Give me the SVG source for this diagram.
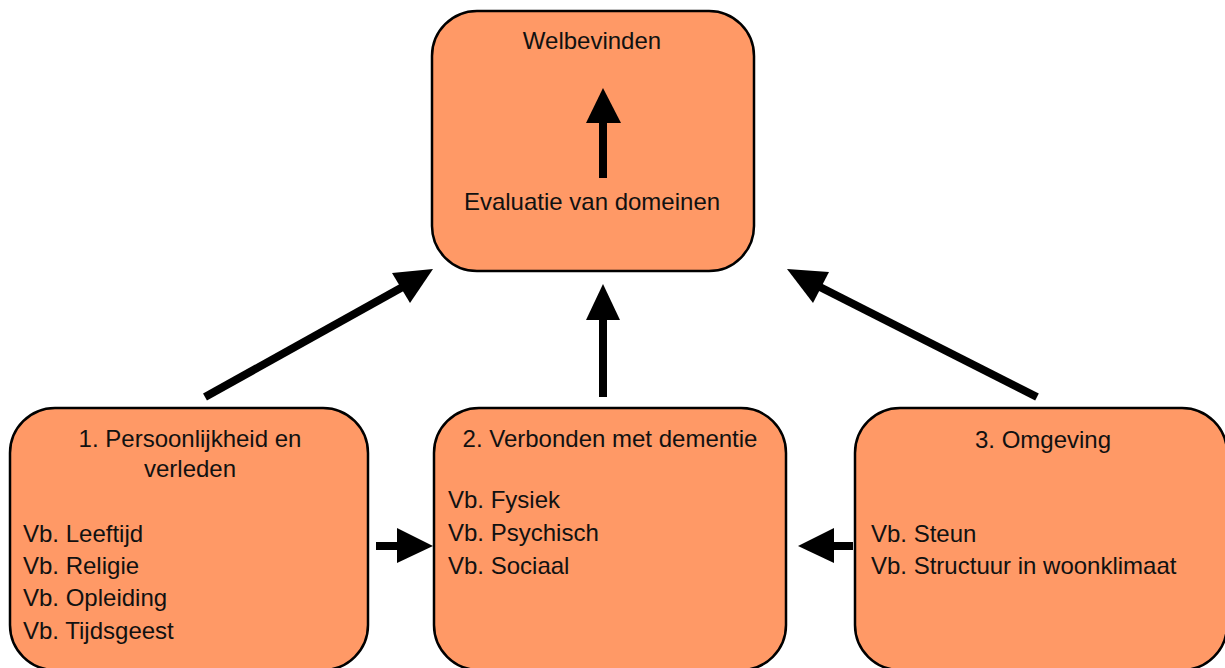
<svg xmlns="http://www.w3.org/2000/svg" width="1225" height="668" viewBox="0 0 1225 668">
<style>
.box{fill:#FF9966;stroke:#000;stroke-width:2.5}
text{font-family:"Liberation Sans",Arial,sans-serif;font-size:24px;fill:#111}
.c{text-anchor:middle}
.ln{stroke:#000;stroke-width:8;fill:none}
.hd{fill:#000}
</style>
<rect width="1225" height="668" fill="#fff"/>
<g id="welbevinden">
<rect class="box" x="432" y="11" width="322" height="260" rx="45"/>
<text class="c" x="592" y="49">Welbevinden</text>
<text class="c" x="592" y="210">Evaluatie van domeinen</text>
<line class="ln" x1="603" y1="178" x2="603" y2="118"/>
<polygon class="hd" points="603,88 586,123 621,123"/>
</g>
<g id="persoonlijkheid">
<rect class="box" x="10" y="408" width="358" height="262" rx="45"/>
<text class="c" x="190" y="447">1. Persoonlijkheid en</text>
<text class="c" x="190" y="477">verleden</text>
<text x="23" y="542">Vb. Leeftijd</text>
<text x="23" y="574">Vb. Religie</text>
<text x="23" y="606">Vb. Opleiding</text>
<text x="23" y="639">Vb. Tijdsgeest</text>
</g>
<g id="dementie">
<rect class="box" x="434" y="408" width="352" height="262" rx="45"/>
<text class="c" x="610" y="447">2. Verbonden met dementie</text>
<text x="448" y="508">Vb. Fysiek</text>
<text x="448" y="541">Vb. Psychisch</text>
<text x="448" y="574">Vb. Sociaal</text>
</g>
<g id="omgeving">
<rect class="box" x="855" y="408" width="372" height="262" rx="45"/>
<text class="c" x="1043" y="448">3. Omgeving</text>
<text x="871" y="542">Vb. Steun</text>
<text x="871" y="574">Vb. Structuur in woonklimaat</text>
</g>
<g id="connectors">
<line class="ln" x1="205" y1="397" x2="408" y2="284"/>
<polygon class="hd" points="433,269 392,273 410,303"/>
<line class="ln" x1="1037" y1="397" x2="812" y2="283"/>
<polygon class="hd" points="787,269 829,272 813,303"/>
<line class="ln" x1="603" y1="397" x2="603" y2="315"/>
<polygon class="hd" points="603,284 586,320 620,320"/>
<line class="ln" x1="376" y1="546" x2="400" y2="546"/>
<polygon class="hd" points="433,546 397,528 397,563"/>
<line class="ln" x1="853" y1="546" x2="830" y2="546"/>
<polygon class="hd" points="798,546 834,528 834,563"/>
</g>
</svg>
